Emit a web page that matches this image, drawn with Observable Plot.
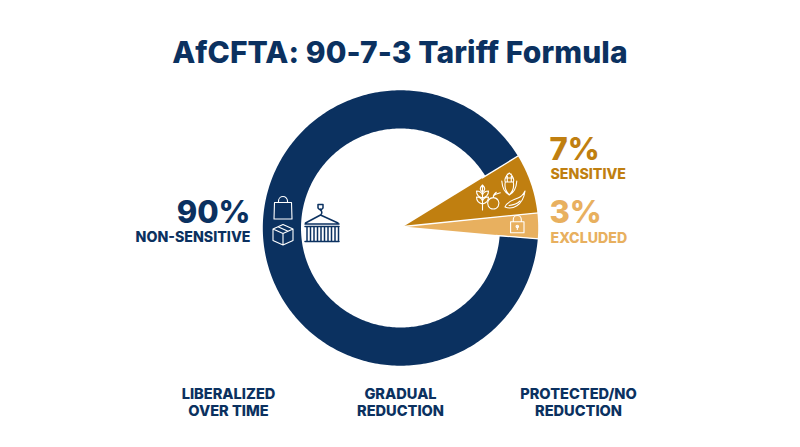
<!DOCTYPE html>
<html>
<head>
<meta charset="utf-8">
<script src="https://cdn.jsdelivr.net/npm/d3@7"></script>
<script src="https://cdn.jsdelivr.net/npm/@observablehq/plot@0.6"></script>
<style>
html,body{margin:0;padding:0;background:#fff;overflow:hidden}
#title{height:80px;box-sizing:border-box;padding-top:34px;text-align:center;font:800 30px/36px Inter,sans-serif;color:#0b3160;letter-spacing:0.1px}
#chart svg{display:block}
</style>
</head>
<body>
<div id="title">AfCFTA: 90-7-3 Tariff Formula</div>
<div id="chart"></div>
<script>
const categories = ["Non-sensitive", "Sensitive", "Excluded"];
const shares = [90, 7, 3];
const colors = ["#0b3160", "#c07f10", "#e8b05f"];
const percentLabels = ["90%", "7%", "3%"];
const nameLabels = ["NON-SENSITIVE", "SENSITIVE", "EXCLUDED"];
const footerLabels = ["LIBERALIZED\nOVER TIME", "GRADUAL\nREDUCTION", "PROTECTED/NO\nREDUCTION"];

// layout (page pixels)
const cx = 400, cy = 227.5, R = 137.7, rInner = 99.5;
const apex = [403, 226];
const startDeg = -4.5; // slices run clockwise from here
const innerRadii = [rInner, 0, 0];
const pol = (r, deg) => [cx + r * Math.cos(deg * Math.PI / 180), cy - r * Math.sin(deg * Math.PI / 180)];

function slicePolygon(share, a0, inner) {
  const sweep = share * 3.6, n = Math.ceil(sweep);
  const pts = [];
  for (let i = 0; i <= n; i++) pts.push(pol(R, a0 - sweep * i / n));
  if (inner > 0) for (let i = n; i >= 0; i--) pts.push(pol(inner, a0 - sweep * i / n));
  else pts.push(apex);
  pts.push(pts[0]);
  return pts;
}
let acc = startDeg;
const boundaries = [];
const sliceRows = categories.flatMap((c, i) => {
  const p = slicePolygon(shares[i], acc, innerRadii[i]);
  boundaries.push(acc);
  acc -= shares[i] * 3.6;
  return p.map(([x, y]) => ({category: c, x, y}));
});
// white hairlines between slices: the two ring ends, and the full radius between the wedges
const seams = [
  {a: pol(rInner - 4, boundaries[0]), b: pol(R + 1, boundaries[0])},
  {a: pol(rInner - 4, boundaries[1]), b: pol(R + 1, boundaries[1])},
  {a: apex, b: pol(R + 1, boundaries[2])}
];

const icons = [
  {x: 283, y: 208, c: "#fff", d: "M-8.5 -5.5 H8.5 L9 11 H-9 Z M-4.5 -5.5 V-7 A4.5 4.5 0 0 1 4.5 -7 V-5.5"},
  {x: 283, y: 234.5, c: "#fff", d: "M0 -10 L10 -5.5 V6 L0 10.5 L-10 6 V-5.5 Z M-10 -5.5 L0 -1 L10 -5.5 M0 -1 V10.5 M-5 -7.7 L5 -3.2"},
  {x: 482.5, y: 197, c: "#fff", d: "M0 -12 V13 M0 -12 C-3 -9 -3 -7 0 -5 C3 -7 3 -9 0 -12 M0 -2 C-1 -5 -4 -6 -6 -6 C-6 -2 -4 0 0 1 M0 -2 C1 -5 4 -6 6 -6 C6 -2 4 0 0 1 M0 4 C-1 1 -4 0 -6 0 C-6 4 -4 6 0 7 M0 4 C1 1 4 0 6 0 C6 4 4 6 0 7"},
  {x: 493.3, y: 203.3, c: "#fff", d: "M0 -5.7 A5.7 5.7 0 1 1 -0.01 -5.7 M0 -5.7 C0 -8 1.5 -10 3 -11 M0 -7.5 C2 -9.5 5 -10 7 -10.5"},
  {x: 509.3, y: 184, c: "#fff", d: "M0 -11 C-4 -8 -5 -4 -4 -2 C-5 3 -3 8 0 11 C3 8 5 3 4 -2 C5 -4 4 -8 0 -11 M-4 -2 H4 M-4 -6 H4 M-2 -10 V-2 M2 -10 V-2 M-7.5 -3 C-7 4 -4 9 0 11 C4 9 7 4 7.5 -3"},
  {x: 515, y: 200, c: "#fff", d: "M-10 7 C-3 10 8 6 10 -9 M-10 7 C-8 1 -1 0 3 -2 C6 -3 8 -5 10 -9 M-6 5.5 C-1 5 2 4 5 1"},
  {x: 517.3, y: 224, c: "#fff", d: "M-6.7 -2.3 H6.7 V8.7 H-6.7 Z M-4 -2.3 V-4.5 A4 4 0 0 1 4 -4.5 V-2.3 M0 2.5 V5.5 M-1.2 2.5 A1.2 1.2 0 1 0 1.2 2.5 A1.2 1.2 0 1 0 -1.2 2.5"},
  {x: 322, y: 223, c: "#0b3160", d: "M-16.5 0 L-1.5 -8 L16 0 M-17 1 H17 M-17 3.5 H17 M-17 18.5 H17 M-15 3.5 V18.5 M-11.5 3.5 V18.5 M-8 3.5 V18.5 M-4.5 3.5 V18.5 M-1 3.5 V18.5 M2.5 3.5 V18.5 M6 3.5 V18.5 M9.5 3.5 V18.5 M13 3.5 V18.5 M16.5 3.5 V18.5 M-1.5 -8 A3 3 0 0 0 -1.5 -13 V-14 M-4 -18.5 H1 V-15 L-0.5 -13.5 H-2.5 L-4 -15 Z"}
];

function iconMark(index, {x, y}) {
  const g = d3.create("svg:g");
  for (const ic of icons) {
    g.append("path")
      .attr("transform", `translate(${x(ic.x)},${y(ic.y)})`)
      .attr("d", ic.d)
      .attr("fill", "none")
      .attr("stroke", ic.c)
      .attr("stroke-width", ic.c === "#fff" ? 1.1 : 1.5)
      .attr("stroke-linejoin", "round")
      .attr("stroke-linecap", "round");
  }
  return g.node();
}

const pct = (i, x, y, anchor, size) =>
  Plot.text([percentLabels[i]], {x: () => x, y: () => y, text: d => d, textAnchor: anchor, fill: colors[i], fontSize: size, fontWeight: 800});
const nameT = (i, x, y, anchor) =>
  Plot.text([nameLabels[i]], {x: () => x, y: () => y, text: d => d, textAnchor: anchor, fill: colors[i], fontSize: 14.2, fontWeight: 800});

const footerX = [228, 400, 578];
const chart = Plot.plot({
  width: 800, height: 367, margin: 0,
  x: {domain: [0, 800], range: [0, 800], axis: null},
  y: {domain: [80, 447], range: [0, 367], axis: null},
  color: {domain: categories, range: colors},
  style: {background: "#fff", fontFamily: "Inter, sans-serif"},
  marks: [
    Plot.line(sliceRows, {x: "x", y: "y", z: "category", fill: "category", stroke: "none", curve: "linear"}),
    Plot.link(seams, {x1: d => d.a[0], y1: d => d.a[1], x2: d => d.b[0], y2: d => d.b[1], stroke: "#fff", strokeWidth: 1.3}),
    iconMark,
    pct(0, 250, 213, "end", 31),
    pct(1, 549, 150, "start", 31),
    pct(2, 549, 212.5, "start", 31),
    nameT(0, 250, 237, "end"),
    nameT(1, 550, 174, "start"),
    nameT(2, 550, 237.5, "start"),
    Plot.text(footerLabels, {x: (d, i) => footerX[i], y: () => 402, text: d => d, fill: colors[0], fontSize: 14.6, fontWeight: 800, lineHeight: 1.16})
  ]
});
document.getElementById("chart").append(chart);
</script>
</body>
</html>
